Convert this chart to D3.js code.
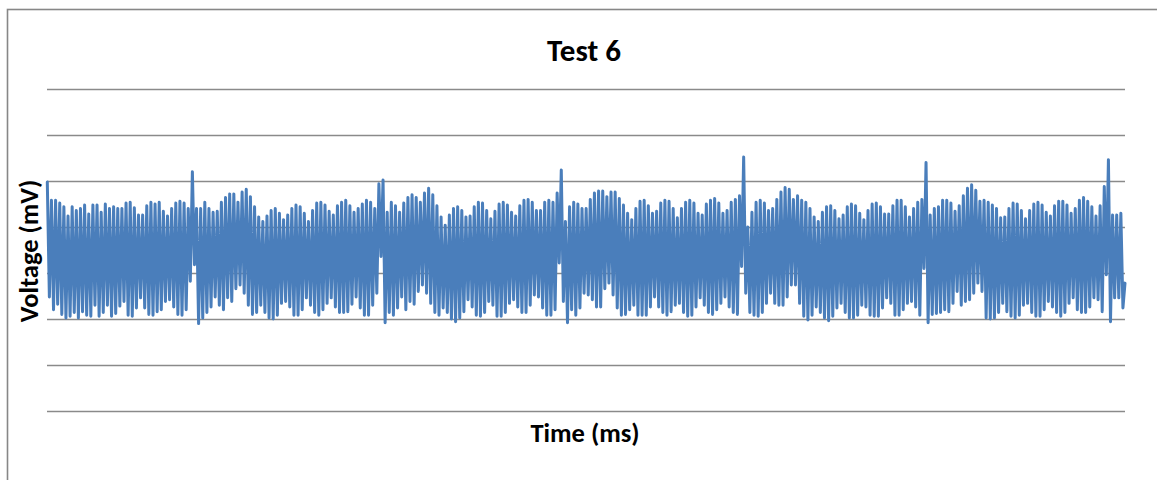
<!DOCTYPE html>
<html>
<head>
<meta charset="utf-8">
<script src="https://cdn.jsdelivr.net/npm/d3@7"></script>
<style>
  html, body { margin: 0; padding: 0; background: #fff; }
  svg { display: block; }
  text { font-family: Carlito, "Open Sans", "Liberation Sans", sans-serif; font-weight: bold; fill: #000; }
</style>
</head>
<body>
<svg id="chart" width="1157" height="480"></svg>
<script>
// ---- Data ----
const chartTitle = "Test 6";
const xAxisTitle = "Time (ms)";
const yAxisTitle = "Voltage (mV)";
const yGridValues = [-1.5, -1.0, -0.5, 0, 0.5, 1.0, 1.5, 2.0];

// upper turning point of each oscillation cycle (mV)
const peakValues = [
  0.99,0.79,0.79,0.76,0.72,0.62,0.72,0.68,0.70,0.74,0.64,0.74,0.74,0.66,0.75,0.70,0.72,0.70,0.70,0.76,0.77,0.71,0.63,0.63,0.73,0.77,0.75,0.77,0.67,0.62,0.70,0.76,0.78,0.76,0.70,
  1.10,
  0.70,0.70,0.77,0.70,0.66,0.67,0.77,0.82,0.86,0.86,0.77,0.88,0.91,0.83,0.72,0.61,0.56,0.62,0.68,0.70,0.65,0.58,0.63,0.70,0.74,0.72,0.65,0.56,0.68,0.76,0.77,0.74,0.67,0.63,0.73,0.77,0.79,0.73,0.66,0.70,0.75,0.79,0.77,0.70,0.97,
  1.01,
  0.66,0.77,0.73,0.66,0.76,0.82,0.85,0.82,0.77,0.87,0.92,0.85,0.73,0.61,0.52,0.63,0.70,0.72,0.68,0.61,0.62,0.72,0.77,0.76,0.68,0.59,0.67,0.75,0.77,0.74,0.66,0.62,0.73,0.79,0.80,0.77,0.68,0.68,0.77,0.79,0.77,0.87,
  1.12,
  0.56,0.72,0.77,0.75,0.70,0.70,0.80,0.87,0.89,0.89,0.83,0.88,0.88,0.81,0.74,0.65,0.58,0.70,0.78,0.79,0.73,0.65,0.67,0.76,0.79,0.78,0.70,0.60,0.70,0.77,0.79,0.76,0.65,0.63,0.75,0.79,0.81,0.76,0.65,0.68,0.77,0.80,0.84,
  1.26,
  0.50,0.66,0.77,0.79,0.76,0.68,0.70,0.80,0.88,0.93,0.91,0.80,0.84,0.79,0.77,0.70,0.61,0.56,0.66,0.72,0.73,0.68,0.59,0.63,0.72,0.75,0.73,0.65,0.58,0.68,0.75,0.76,0.72,0.64,0.64,0.73,0.79,0.79,0.72,0.61,0.70,0.77,0.80,
  1.20,
  0.63,0.70,0.72,0.79,0.79,0.76,0.67,0.73,0.84,0.92,0.96,0.90,0.78,0.79,0.77,0.74,0.70,0.60,0.61,0.70,0.76,0.75,0.68,0.59,0.68,0.75,0.77,0.74,0.66,0.62,0.73,0.78,0.78,0.74,0.65,0.70,0.79,0.82,0.78,0.72,0.62,0.73,0.94,
  1.23,
  0.63,0.63,0.65
];

// lower turning point following each peak (mV)
const troughValues = [
  -0.26,-0.40,-0.34,-0.45,-0.49,-0.47,-0.43,-0.49,-0.42,-0.46,-0.47,-0.35,-0.47,-0.43,-0.35,-0.47,-0.44,-0.36,-0.31,-0.46,-0.47,-0.38,-0.27,-0.38,-0.45,-0.46,-0.42,-0.40,-0.31,-0.29,-0.37,-0.45,-0.46,-0.40,-0.09,
  0.09,
  -0.55,-0.49,-0.43,-0.37,-0.26,-0.35,-0.40,-0.27,-0.31,-0.17,-0.13,-0.22,-0.35,-0.45,-0.43,-0.35,-0.43,-0.49,-0.50,-0.46,-0.33,-0.31,-0.37,-0.46,-0.46,-0.40,-0.27,-0.35,-0.43,-0.46,-0.40,-0.33,-0.27,-0.37,-0.43,-0.43,-0.42,-0.34,-0.26,-0.38,-0.46,-0.46,-0.35,-0.22,0.18,
  -0.54,
  -0.43,-0.46,-0.38,-0.26,-0.40,-0.31,-0.34,-0.20,-0.13,-0.22,-0.33,-0.43,-0.46,-0.38,-0.43,-0.50,-0.53,-0.49,-0.42,-0.29,-0.37,-0.46,-0.47,-0.43,-0.31,-0.35,-0.47,-0.47,-0.43,-0.33,-0.29,-0.37,-0.43,-0.43,-0.35,-0.24,-0.26,-0.38,-0.46,-0.46,-0.40,0.11,
  -0.31,
  -0.54,-0.40,-0.46,-0.38,-0.22,-0.24,-0.29,-0.37,-0.37,-0.17,-0.11,-0.24,-0.38,-0.46,-0.45,-0.40,-0.35,-0.46,-0.46,-0.46,-0.37,-0.26,-0.37,-0.43,-0.46,-0.42,-0.35,-0.33,-0.43,-0.47,-0.46,-0.37,-0.27,-0.35,-0.43,-0.45,-0.40,-0.33,-0.26,-0.37,-0.43,-0.45,0.07,
  -0.22,
  -0.43,-0.46,-0.47,-0.43,-0.33,-0.22,-0.33,-0.35,-0.35,-0.26,-0.13,-0.13,-0.33,-0.47,-0.51,-0.46,-0.37,-0.43,-0.49,-0.52,-0.47,-0.38,-0.33,-0.43,-0.49,-0.49,-0.46,-0.35,-0.37,-0.46,-0.47,-0.47,-0.38,-0.27,-0.33,-0.46,-0.46,-0.40,-0.33,-0.31,-0.37,-0.46,0.05,
  -0.54,
  -0.45,-0.44,-0.43,-0.40,-0.42,-0.33,-0.20,-0.35,-0.31,-0.29,-0.22,-0.11,-0.20,-0.49,-0.50,-0.49,-0.43,-0.33,-0.42,-0.47,-0.49,-0.46,-0.35,-0.33,-0.43,-0.47,-0.47,-0.40,-0.31,-0.37,-0.43,-0.47,-0.43,-0.33,-0.27,-0.40,-0.43,-0.43,-0.37,-0.27,-0.29,-0.42,-0.02,
  -0.53,
  -0.27,-0.27,-0.38
];
const lastValue = -0.11;

// ---- Build sample series (alternating turning points, uniform time steps) ----
const voltage = [];
peakValues.forEach((p, i) => { voltage.push(p); voltage.push(troughValues[i]); });
voltage.push(lastValue);
const samples = voltage.map((v, i) => ({ t: i, v }));

// ---- Layout ----
const plot = { left: 47, right: 1125, top: 89, bottom: 411 };

const svg = d3.select("#chart");

// outer chart border
svg.append("rect")
  .attr("x", 7.5).attr("y", 9.5)
  .attr("width", 1160).attr("height", 480)
  .attr("fill", "#fff")
  .attr("stroke", "#878787").attr("stroke-width", 1.6);

const x = d3.scaleLinear().domain([0, samples.length - 1]).range([plot.left + 0.3, plot.right]);
const y = d3.scaleLinear().domain([-1.5, 2.0]).range([plot.bottom, plot.top]);

// horizontal gridlines
const grid = svg.append("g")
  .attr("transform", `translate(${plot.left},0)`)
  .call(d3.axisLeft(y).tickValues(yGridValues).tickSize(-(plot.right - plot.left)).tickFormat(""));
grid.select(".domain").remove();
grid.selectAll(".tick line").attr("stroke", "#8a8a8a").attr("stroke-width", 1.6);

// signal line
const line = d3.line().x(d => x(d.t)).y(d => y(d.v));
svg.append("path")
  .datum(samples)
  .attr("d", line)
  .attr("fill", "none")
  .attr("stroke", "#4a7ebb")
  .attr("stroke-width", 3)
  .attr("stroke-linejoin", "round")
  .attr("stroke-linecap", "round");

// titles
svg.append("text")
  .attr("x", 584).attr("y", 61)
  .attr("text-anchor", "middle")
  .attr("font-size", 31)
  .text(chartTitle);

svg.append("text")
  .attr("x", 585).attr("y", 442)
  .attr("text-anchor", "middle")
  .attr("font-size", 26.5)
  .text(xAxisTitle);

svg.append("text")
  .attr("transform", `translate(38,251) rotate(-90)`)
  .attr("text-anchor", "middle")
  .attr("font-size", 26.5)
  .text(yAxisTitle);
</script>
</body>
</html>
